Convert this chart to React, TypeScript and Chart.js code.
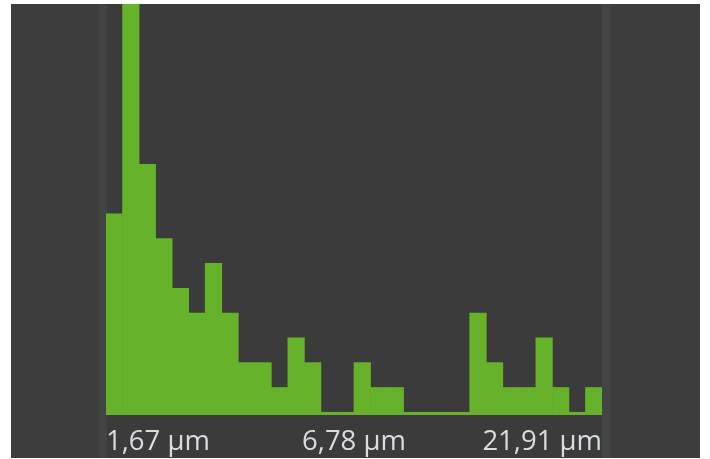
import React, { useEffect, useRef } from "react";
import { Chart, registerables } from "chart.js";

Chart.register(...registerables);

// histogram bin counts (30 bins)
const binCounts = [8, 19, 10, 7, 5, 4, 6, 4, 2, 2, 1, 3, 2, 0, 0, 2, 1, 1, 0, 0, 0, 0, 4, 2, 1, 1, 3, 1, 0, 1];
const binLabels = binCounts.map((_, i) => `bin ${i + 1}`);
const tickLabels = ["1,67 µm", "6,78 µm", "21,91 µm"];
const tickPositions = [0, 0.5, 1];

export default function App() {
  const ref = useRef<HTMLCanvasElement | null>(null);

  useEffect(() => {
    document.body.style.margin = "0";
    if (!ref.current) return;
    const chart = new Chart(ref.current, {
      type: "bar",
      data: {
        labels: binLabels,
        datasets: [
          {
            data: binCounts,
            backgroundColor: "#66b22a",
            borderWidth: 0,
            barPercentage: 1,
            categoryPercentage: 1,
            base: -0.11,
          } as any,
        ],
      },
      options: {
        animation: false,
        responsive: false,
        maintainAspectRatio: false,
        layout: { padding: 0 },
        plugins: { legend: { display: false }, tooltip: { enabled: false } },
        scales: {
          x: {
            display: false,
            grid: { display: false },
          },
          x2: {
            type: "linear",
            position: "bottom",
            offset: false,
            min: 0,
            max: 1,
            grid: { display: false, offset: false },
            border: { display: false },
            afterBuildTicks: (scale: any) => {
              scale.ticks = tickPositions.map((v) => ({ value: v }));
            },
            afterFit: (scale: any) => {
              scale.height = 42;
              scale.paddingLeft = 0;
              scale.paddingRight = 0;
            },
            ticks: {
              autoSkip: false,
              maxRotation: 0,
              align: "inner",
              padding: 3,
              color: "#d9dce1",
              font: { family: "'Open Sans', 'Noto Sans', sans-serif", size: 27.5 },
              callback: (_v: any, i: number) => tickLabels[i],
            },
          } as any,
          y: {
            display: false,
            min: -0.11,
            max: 16.46,
            grid: { display: false },
          },
        },
      },
    });
    return () => chart.destroy();
  }, []);

  return (
    <div style={{ position: "absolute", left: 0, top: 0, width: 710, height: 459, background: "#ffffff", overflow: "hidden" }}>
      <div style={{ position: "absolute", left: 11, top: 4, width: 689, height: 454, background: "#3c3d3c" }} />
      <div style={{ position: "absolute", left: 99, top: 4, width: 8, height: 454, background: "#424343" }} />
      <div style={{ position: "absolute", left: 107, top: 4, width: 495, height: 454, background: "#3a3b3a" }} />
      <div style={{ position: "absolute", left: 602, top: 4, width: 9, height: 454, background: "#434444" }} />
      <canvas ref={ref} width={496} height={453} style={{ position: "absolute", left: 106, top: 4, width: 496, height: 453 }} />
    </div>
  );
}
